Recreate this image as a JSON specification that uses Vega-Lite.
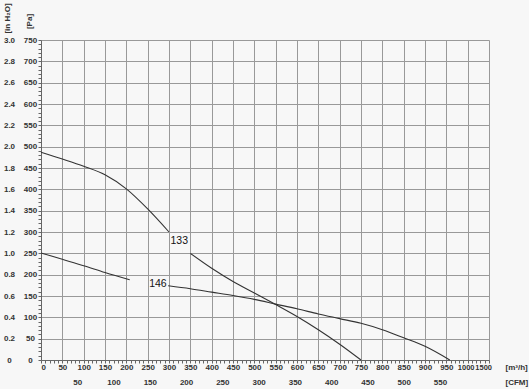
{
  "$schema": "https://vega.github.io/schema/vega-lite/v6.json",
  "autosize": {"type": "none"},
  "width": 448,
  "height": 320,
  "padding": {"left": 41, "top": 40, "right": 40, "bottom": 29},
  "background": "#f7f7f7",
  "config": {
    "view": {"stroke": null},
    "axis": {"labelFont": "Liberation Sans", "labelFontSize": 8, "labelFontWeight": "bold", "labelColor": "#333", "titleFont": "Liberation Sans", "titleFontSize": 8, "titleColor": "#333", "titleFontWeight": "bold", "labelOverlap": false}
  },
  "datasets": {
    "curves": [
      {"series": "133", "seg": "133a", "q": 0, "p": 487},
      {"series": "133", "seg": "133a", "q": 50, "p": 471},
      {"series": "133", "seg": "133a", "q": 100, "p": 454},
      {"series": "133", "seg": "133a", "q": 150, "p": 434},
      {"series": "133", "seg": "133a", "q": 200, "p": 401},
      {"series": "133", "seg": "133a", "q": 250, "p": 354},
      {"series": "133", "seg": "133a", "q": 300, "p": 300},
      {"series": "133", "seg": "133b", "q": 350, "p": 250},
      {"series": "133", "seg": "133b", "q": 400, "p": 215},
      {"series": "133", "seg": "133b", "q": 450, "p": 184},
      {"series": "133", "seg": "133b", "q": 500, "p": 157},
      {"series": "133", "seg": "133b", "q": 550, "p": 130},
      {"series": "133", "seg": "133b", "q": 600, "p": 102},
      {"series": "133", "seg": "133b", "q": 650, "p": 71},
      {"series": "133", "seg": "133b", "q": 700, "p": 37},
      {"series": "133", "seg": "133b", "q": 750, "p": 0},
      {"series": "146", "seg": "146a", "q": 0, "p": 251},
      {"series": "146", "seg": "146a", "q": 50, "p": 236},
      {"series": "146", "seg": "146a", "q": 100, "p": 221},
      {"series": "146", "seg": "146a", "q": 150, "p": 205},
      {"series": "146", "seg": "146a", "q": 208, "p": 188},
      {"series": "146", "seg": "146b", "q": 298, "p": 174},
      {"series": "146", "seg": "146b", "q": 350, "p": 167},
      {"series": "146", "seg": "146b", "q": 400, "p": 159},
      {"series": "146", "seg": "146b", "q": 450, "p": 151},
      {"series": "146", "seg": "146b", "q": 500, "p": 142},
      {"series": "146", "seg": "146b", "q": 550, "p": 131},
      {"series": "146", "seg": "146b", "q": 600, "p": 120},
      {"series": "146", "seg": "146b", "q": 650, "p": 108},
      {"series": "146", "seg": "146b", "q": 700, "p": 97},
      {"series": "146", "seg": "146b", "q": 750, "p": 86},
      {"series": "146", "seg": "146b", "q": 800, "p": 71},
      {"series": "146", "seg": "146b", "q": 850, "p": 52},
      {"series": "146", "seg": "146b", "q": 900, "p": 32},
      {"series": "146", "seg": "146b", "q": 958, "p": 0}
    ],
    "labels": [
      {"name": "133", "q": 324, "p": 279},
      {"name": "146", "q": 274, "p": 177}
    ]
  },
  "resolve": {"scale": {"x": "independent", "y": "independent"}, "axis": {"x": "independent", "y": "independent"}},
  "layer": [
    {
      "encoding": {
        "x": {"field": "q", "type": "quantitative", "scale": {"domain": [0, 1050], "nice": false},
          "axis": {"orient": "bottom", "values": [0,50,100,150,200,250,300,350,400,450,500,550,600,650,700,750,800,850,900,950,1000,1050],
            "labelExpr": "datum.value == 1050 ? '1500' : datum.label", "format": "d", "ticks": false, "domain": false, "labelPadding": 3, "labelBaseline": "top",
            "labelOffset": {"condition": [{"test": "datum.value == 1050", "value": 2.5}, {"test": "datum.value == 1000", "value": -2}], "value": 0},
            "labelFontSize": {"condition": {"test": "datum.value >= 1000", "value": 7.5}, "value": 8},
            "grid": true, "gridColor": "#999", "gridOpacity": 1, "gridWidth": 1,
            "title": "[m³/h]", "titleX": 464, "titleY": 7, "titleAlign": "left", "titleBaseline": "middle", "titleAngle": 0}},
        "y": {"field": "p", "type": "quantitative", "scale": {"domain": [0, 750], "nice": false},
          "axis": {"orient": "left", "values": [0,50,100,150,200,250,300,350,400,450,500,550,600,650,700,750],
            "format": "d", "ticks": false, "domain": false, "labelPadding": 11, "labelAlign": "center", "labelBaseline": "middle",
            "grid": true, "gridColor": "#999", "gridOpacity": 1, "gridWidth": 1,
            "title": "[Pa]", "titleX": -12, "titleY": -19, "titleAlign": "center", "titleBaseline": "middle", "titleAngle": -90}}
      },
      "layer": [
        {
          "data": {"name": "curves"},
          "mark": {"type": "line", "color": "#333", "strokeWidth": 1.1, "interpolate": "monotone"},
          "encoding": {"detail": {"field": "seg"}}
        },
        {
          "data": {"name": "labels"},
          "mark": {"type": "text", "font": "Liberation Sans", "fontSize": 10.5, "color": "#111"},
          "encoding": {"text": {"field": "name"}}
        }
      ]
    },
    {
      "data": {"name": "curves"},
      "mark": {"type": "point", "opacity": 0},
      "encoding": {
        "x": {"field": "q", "type": "quantitative", "scale": {"domain": [0, 1050], "nice": false},
          "axis": {"orient": "bottom", "values": [0,10,20,30,40,50,60,70,80,90,100,110,120,130,140,150,160,170,180,190,200,210,220,230,240,250,260,270,280,290,300,310,320,330,340,350,360,370,380,390,400,410,420,430,440,450,460,470,480,490,500,510,520,530,540,550,560,570,580,590,600,610,620,630,640,650,660,670,680,690,700,710,720,730,740,750,760,770,780,790,800,810,820,830,840,850,860,870,880,890,900,910,920,930,940,950,960,970,980,990,1000,1010,1020,1030,1040,1050],
            "labels": false, "grid": false, "domain": true, "domainColor": "#666", "tickColor": "#666", "tickSize": 3, "title": null}},
        "y": {"field": "p", "type": "quantitative", "scale": {"domain": [0, 750], "nice": false},
          "axis": {"orient": "left", "values": [0,10,20,30,40,50,60,70,80,90,100,110,120,130,140,150,160,170,180,190,200,210,220,230,240,250,260,270,280,290,300,310,320,330,340,350,360,370,380,390,400,410,420,430,440,450,460,470,480,490,500,510,520,530,540,550,560,570,580,590,600,610,620,630,640,650,660,670,680,690,700,710,720,730,740,750],
            "labels": false, "grid": false, "domain": true, "domainColor": "#666", "tickColor": "#666", "tickSize": 3, "title": null}}
      }
    },
    {
      "data": {"name": "curves"},
      "mark": {"type": "point", "opacity": 0, "clip": true},
      "encoding": {
        "x": {"field": "q", "type": "quantitative", "scale": {"domain": [0, 617.6], "nice": false},
          "axis": {"orient": "bottom", "values": [50,100,150,200,250,300,350,400,450,500,550], "format": "d",
            "ticks": false, "domain": false, "grid": false, "labelPadding": 18, "labelBaseline": "top",
            "title": "[CFM]", "titleX": 464, "titleY": 22, "titleAlign": "left", "titleBaseline": "middle", "titleAngle": 0}},
        "y": {"field": "p", "type": "quantitative", "scale": {"domain": [0, 3], "nice": false},
          "axis": {"orient": "left", "values": [0,0.2,0.4,0.6,0.8,1.0,1.2,1.4,1.6,1.8,2.0,2.2,2.4,2.6,2.8,3.0],
            "labelExpr": "datum.value == 0 ? '0' : format(datum.value, '.1f')",
            "ticks": false, "domain": false, "grid": false, "labelPadding": 32, "labelAlign": "center", "labelBaseline": "middle",
            "title": "[in H₂O]", "titleX": -34, "titleY": -22, "titleAlign": "center", "titleBaseline": "middle", "titleAngle": -90}}
      }
    }
  ]
}
